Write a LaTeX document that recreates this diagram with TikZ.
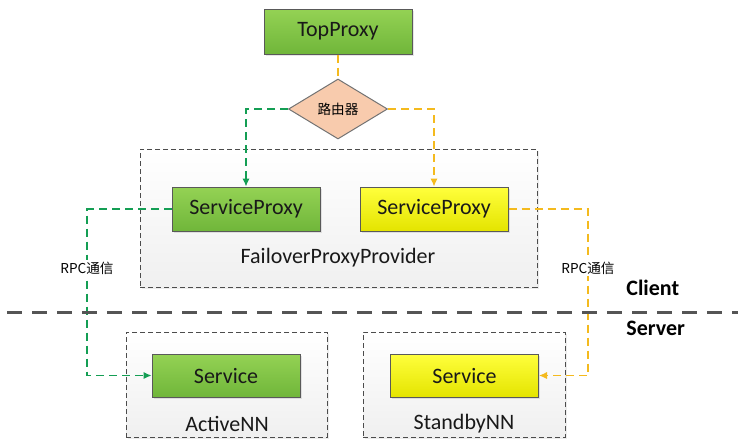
\documentclass[tikz,border=0pt]{standalone}
\usepackage{fontspec}
\setmainfont{Carlito}
\newfontfamily\cjk{Noto Sans CJK SC}
\usetikzlibrary{shapes.geometric,arrows.meta,shadows}
\definecolor{greentop}{RGB}{148,210,84}
\definecolor{greenbot}{RGB}{112,182,58}
\definecolor{greenline}{RGB}{20,158,84}
\definecolor{yellowtop}{RGB}{255,255,60}
\definecolor{yellowbot}{RGB}{228,228,0}
\definecolor{yellowline}{RGB}{244,186,30}
\definecolor{peach}{RGB}{248,203,173}
\definecolor{sepgray}{RGB}{85,85,85}
\tikzset{
  boxtext/.style={font=\fontsize{11}{13}\selectfont, text=black!90},
  greenbox/.style={boxtext, draw=black!65, line width=0.5pt, top color=greentop, bottom color=greenbot,
    minimum width=74pt, minimum height=22pt, inner sep=0pt,
    drop shadow={opacity=0.2, shadow xshift=0.8pt, shadow yshift=-0.8pt}},
  yellowbox/.style={greenbox, top color=yellowtop, bottom color=yellowbot},
  groupbox/.style={draw=black!70, dashed, dash pattern=on 2.5pt off 1.5pt, line width=0.45pt,
    top color=white, bottom color=black!6, inner sep=0pt,
    drop shadow={opacity=0.15, shadow xshift=0.8pt, shadow yshift=-0.8pt}},
  grouplabel/.style={boxtext, inner sep=0pt},
  router/.style={diamond, draw=black!55, fill=peach, line width=0.5pt, inner sep=0pt,
    minimum width=49.5pt, minimum height=30pt, font=\cjk\fontsize{6.8}{8}\selectfont},
  gdash/.style={greenline, line width=0.6pt, dash pattern=on 4pt off 2.5pt},
  ydash/.style={yellowline, line width=0.6pt, dash pattern=on 4pt off 2.5pt},
  rpc/.style={fill=white, inner sep=1pt, font=\cjk\fontsize{6.8}{8}\selectfont},
  side/.style={font=\bfseries\fontsize{11}{13}\selectfont, anchor=west, inner sep=0pt},
  tip/.style={-{Latex[length=4pt,width=3.6pt]}}
}
\begin{document}
\begin{tikzpicture}[x=0.5pt,y=-0.5pt]
    \useasboundingbox (0,0) rectangle (738,446);
    \node[groupbox, minimum width=198.5pt, minimum height=69pt] (fpp) at (338.5,218) {};
    \node[groupbox, minimum width=100.5pt, minimum height=52.5pt] (activenn) at (226.5,384.5) {};
    \node[groupbox, minimum width=101pt, minimum height=52.5pt] (standbynn) at (464,384.5) {};
    \node[grouplabel] (fpplabel) at (338,258) {FailoverProxyProvider};
    \node[grouplabel] (activelabel) at (227,424) {ActiveNN};
    \node[grouplabel] (standbylabel) at (464,424) {StandbyNN};
    \node[greenbox, minimum height=22.5pt] (top) at (338,31.5) {TopProxy};
    \node[router] (route) at (338,109) {路由器};
    \node[greenbox] (spA) at (246,209) {ServiceProxy};
    \node[yellowbox] (spB) at (434,209) {ServiceProxy};
    \node[greenbox, minimum height=21.5pt] (svA) at (226,375.5) {Service};
    \node[yellowbox, minimum height=21.5pt] (svB) at (464.5,375.5) {Service};
    \draw[ydash] (top.south) -- (route.north);
    \draw[gdash,tip] (route.west) -| (spA.north);
    \draw[ydash,tip] (route.east) -| (spB.north);
    \coordinate (gbend) at (87,209);
    \coordinate (ybend) at (588,209);
    \draw[gdash,tip] (spA.west) -- (gbend) |- (svA.west);
    \draw[ydash,tip] (spB.east) -- (ybend) |- (svB.east);
    \node[rpc] (rpcA) at (87,268) {RPC通信};
    \node[rpc] (rpcB) at (588,268) {RPC通信};
    \draw[sepgray, line width=1.5pt, dash pattern=on 7.5pt off 5pt] (7,312) -- (738,312);
    \node[side] (client) at (626,288) {Client};
    \node[side] (server) at (626,328) {Server};
\end{tikzpicture}
\end{document}
